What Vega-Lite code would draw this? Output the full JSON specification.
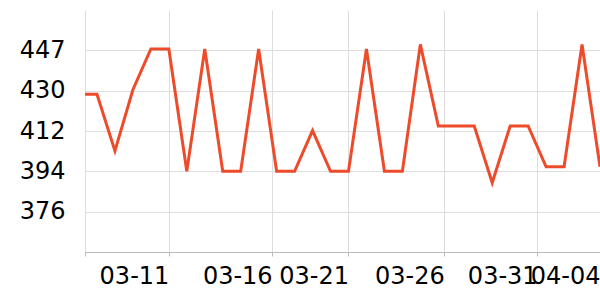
{
  "$schema": "https://vega.github.io/schema/vega-lite/v6.json",
  "width": 515,
  "height": 242,
  "padding": {"left": 85, "top": 10, "right": 0, "bottom": 48},
  "autosize": {"type": "none"},
  "config": {
    "view": {"stroke": null},
    "font": "DejaVu Sans"
  },
  "data": {
    "values": [
      {"date": "2024-03-06", "value": 428},
      {"date": "2024-03-07", "value": 428},
      {"date": "2024-03-08", "value": 403},
      {"date": "2024-03-09", "value": 430},
      {"date": "2024-03-10", "value": 448},
      {"date": "2024-03-11", "value": 448},
      {"date": "2024-03-12", "value": 394},
      {"date": "2024-03-13", "value": 448},
      {"date": "2024-03-14", "value": 394},
      {"date": "2024-03-15", "value": 394},
      {"date": "2024-03-16", "value": 448},
      {"date": "2024-03-17", "value": 394},
      {"date": "2024-03-18", "value": 394},
      {"date": "2024-03-19", "value": 412},
      {"date": "2024-03-20", "value": 394},
      {"date": "2024-03-21", "value": 394},
      {"date": "2024-03-22", "value": 448},
      {"date": "2024-03-23", "value": 394},
      {"date": "2024-03-24", "value": 394},
      {"date": "2024-03-25", "value": 450},
      {"date": "2024-03-26", "value": 414},
      {"date": "2024-03-27", "value": 414},
      {"date": "2024-03-28", "value": 414},
      {"date": "2024-03-29", "value": 389},
      {"date": "2024-03-30", "value": 414},
      {"date": "2024-03-31", "value": 414},
      {"date": "2024-04-01", "value": 396},
      {"date": "2024-04-02", "value": 396},
      {"date": "2024-04-03", "value": 450},
      {"date": "2024-04-04", "value": 396}
    ]
  },
  "mark": {"type": "line", "color": "#EE4B2B", "strokeWidth": 3, "clip": true},
  "encoding": {
    "x": {
      "field": "date",
      "type": "temporal",
      "title": null,
      "scale": {
        "type": "utc",
        "domain": [
          {"year": 2024, "month": 3, "date": 6, "hours": 8, "utc": true},
          {"year": 2024, "month": 4, "date": 4, "utc": true}
        ]
      },
      "axis": {
        "values": [
          {"year": 2024, "month": 3, "date": 6, "hours": 8, "utc": true},
          {"year": 2024, "month": 3, "date": 11, "utc": true},
          {"year": 2024, "month": 3, "date": 16, "hours": 18, "utc": true},
          {"year": 2024, "month": 3, "date": 21, "utc": true},
          {"year": 2024, "month": 3, "date": 26, "hours": 8, "utc": true},
          {"year": 2024, "month": 3, "date": 31, "hours": 12, "utc": true},
          {"year": 2024, "month": 4, "date": 4, "utc": true}
        ],
        "labelExpr": "datum.value < utc(2024, 2, 7) ? '' : utcFormat(datum.value, '%m-%d')",
        "labelAlign": "right",
        "labelBaseline": "top",
        "labelFontSize": 24,
        "labelColor": "#000",
        "labelPadding": 8,
        "labelOverlap": false,
        "labelFlush": false,
        "tickSize": 4,
        "tickColor": "#bbb",
        "domainColor": "#bbb",
        "gridColor": "#ddd",
        "grid": true
      }
    },
    "y": {
      "field": "value",
      "type": "quantitative",
      "title": null,
      "scale": {"domain": [358.4, 465.2], "nice": false, "zero": false},
      "axis": {
        "values": [376.2, 394.0, 411.8, 429.6, 447.4],
        "format": ".0f",
        "labelFontSize": 24,
        "labelColor": "#000",
        "labelPadding": 20,
        "tickSize": 0,
        "ticks": false,
        "domain": false,
        "gridColor": "#ddd",
        "grid": true
      }
    }
  }
}
